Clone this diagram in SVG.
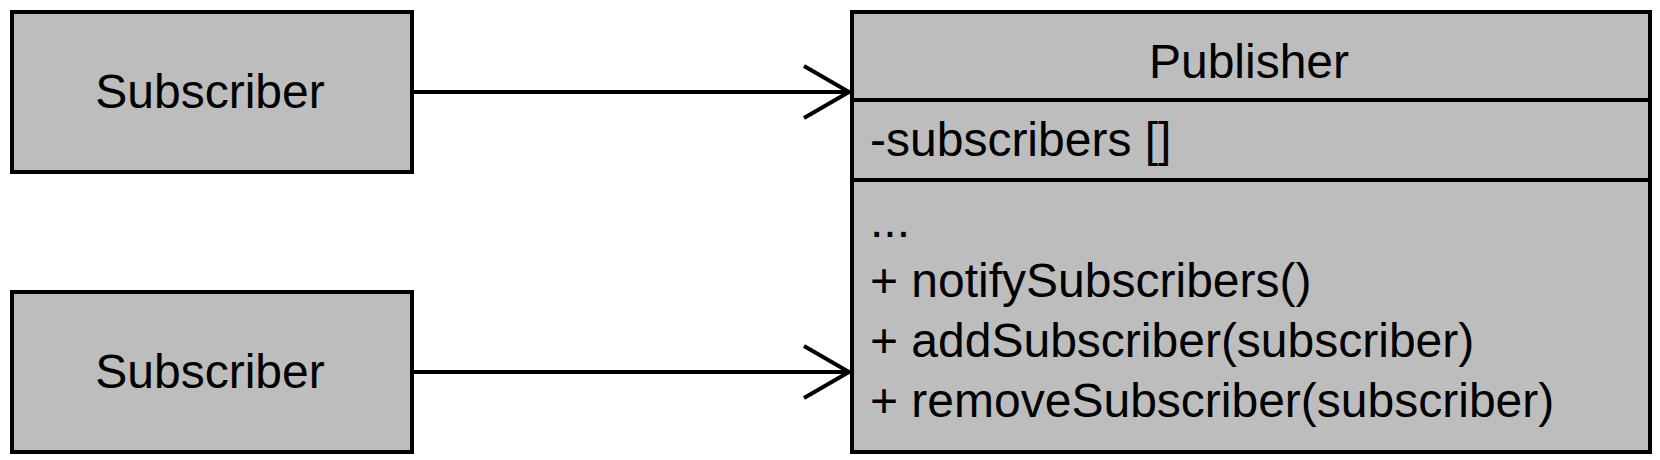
<svg xmlns="http://www.w3.org/2000/svg" width="1660" height="460" viewBox="0 0 1660 460">
<style>
.box{fill:#bdbdbd;stroke:#000;stroke-width:4}
.sep{stroke:#000;stroke-width:4}
.t{font-family:"Liberation Sans",Arial,sans-serif;font-size:48px;fill:#000}
.c{text-anchor:middle}
.edge{fill:none;stroke:#000;stroke-width:4}
</style>
<rect width="1660" height="460" fill="#fff"/>
<g id="subscriber1">
<rect class="box" x="12" y="12" width="400" height="160"/>
<text class="t c" x="210" y="108">Subscriber</text>
</g>
<g id="subscriber2">
<rect class="box" x="12" y="292" width="400" height="160"/>
<text class="t c" x="210" y="388">Subscriber</text>
</g>
<g id="publisher">
<rect class="box" x="852" y="12" width="798" height="440"/>
<line class="sep" x1="852" y1="100" x2="1650" y2="100"/>
<line class="sep" x1="852" y1="180" x2="1650" y2="180"/>
<text class="t c" x="1249" y="78">Publisher</text>
<text class="t" x="870" y="156">-subscribers []</text>
<text class="t" x="870" y="237">...</text>
<text class="t" x="870" y="297">+ notifySubscribers()</text>
<text class="t" x="870" y="357">+ addSubscriber(subscriber)</text>
<text class="t" x="870" y="417">+ removeSubscriber(subscriber)</text>
</g>
<g id="connectors">
<path class="edge" d="M414 92H849M804 66L849 92L804 118"/>
<path class="edge" d="M414 372H849M804 346L849 372L804 398"/>
</g>
</svg>
